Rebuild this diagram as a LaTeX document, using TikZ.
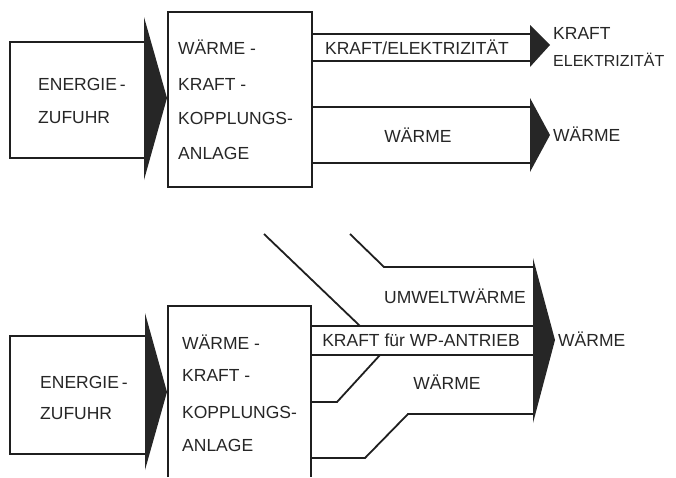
\documentclass[tikz,border=0pt]{standalone}
\usepackage{fontspec}
\setmainfont{Liberation Sans}
\begin{document}
\begin{tikzpicture}[x=1pt,y=-1pt,
  ln/.style={line width=1.8pt,draw=black!88},
  boxs/.style={ln,rectangle,inner sep=0pt,anchor=north west},
  tri/.style={fill=black!85,draw=none},
  txt/.style={inner sep=0pt,font=\fontsize{17.5}{17.5}\selectfont,text height=12.5pt,text depth=0pt,text=black!85}]
\useasboundingbox (0,0) rectangle (676,477);
% ---------- top diagram ----------
\node[boxs,minimum width=136pt,minimum height=116pt] (e1) at (9,41) {};
\node[boxs,minimum width=144pt,minimum height=175pt] (k1) at (167,11) {};
\fill[tri] (144,17) -- (167,98) -- (144,180) -- cycle;
\node[txt,anchor=west] (e1a) at (38,84) {ENERGIE\,-};
\node[txt,anchor=west] (e1b) at (38,117) {ZUFUHR};
\node[txt,anchor=west] (k1a) at (178,48) {WÄRME -};
\node[txt,anchor=west] (k1b) at (178,84) {KRAFT -};
\node[txt,anchor=west] (k1c) at (178,118) {KOPPLUNGS-};
\node[txt,anchor=west] (k1d) at (178,153) {ANLAGE};
% Kraft band
\coordinate (ka) at (530,34);
\coordinate (kb) at (530,61);
\draw[ln] (k1.east |- ka) -- (ka);
\draw[ln] (k1.east |- kb) -- (kb);
\fill[tri] (530,25) -- (550,45) -- (530,67) -- cycle;
\node[txt] (kl) at (417,48) {KRAFT/ELEKTRIZITÄT};
\node[txt,anchor=west] (ko1) at (553,33) {KRAFT};
\node[txt,anchor=west,font=\fontsize{16}{16}\selectfont] (ko2) at (553,60) {ELEKTRIZITÄT};
% Waerme band
\coordinate (wa) at (530,107);
\coordinate (wb) at (530,163);
\draw[ln] (k1.east |- wa) -- (wa);
\draw[ln] (k1.east |- wb) -- (wb);
\fill[tri] (530,98) -- (550,135) -- (530,172) -- cycle;
\node[txt] (wl) at (418,136) {WÄRME};
\node[txt,anchor=west] (wo) at (553,135) {WÄRME};
% ---------- bottom diagram ----------
\node[boxs,minimum width=136pt,minimum height=118pt] (e2) at (9,335) {};
\fill[tri] (145,313) -- (167,392) -- (145,470) -- cycle;
\coordinate (k2bl) at (168,477);
\coordinate (k2br) at (311,477);
\draw[ln] (k2bl) |- (311,306) coordinate (k2tr) -- (k2br);
\node[txt,anchor=west] (e2a) at (40,382) {ENERGIE\,-};
\node[txt,anchor=west] (e2b) at (40,413) {ZUFUHR};
\node[txt,anchor=west] (k2a) at (182,343) {WÄRME -};
\node[txt,anchor=west] (k2b) at (182,375) {KRAFT -};
\node[txt,anchor=west] (k2c) at (182,412) {KOPPLUNGS-};
\node[txt,anchor=west] (k2d) at (182,445) {ANLAGE};
% Kraft fuer WP band
\coordinate (pa) at (533,326);
\coordinate (pb) at (533,355);
\draw[ln] (311,326) -- (pa);
\draw[ln] (311,355) -- (pb);
\node[txt] (pl) at (421,340) {KRAFT für WP-ANTRIEB};
% diagonal line entering Kraft band
\coordinate (d1) at (264,234);
\draw[ln] (d1) -- (360,326);
% Umweltwaerme inflow
\coordinate (u0) at (350,234);
\coordinate (ua) at (533,267);
\draw[ln] (u0) -- (384,267) -- (ua);
\node[txt] (ul) at (455,297) {UMWELTWÄRME};
% Waerme lower branches
\draw[ln] (311,402) -- (337,402) -- (380,355);
\coordinate (lb) at (533,414);
\draw[ln] (311,458) -- (365,458) -- (408,414) -- (lb);
\node[txt] (ll) at (447,383) {WÄRME};
\fill[tri] (533,258) -- (555,340) -- (533,423) -- cycle;
\node[txt,anchor=west] (wo2) at (558,340) {WÄRME};
\end{tikzpicture}
\end{document}
